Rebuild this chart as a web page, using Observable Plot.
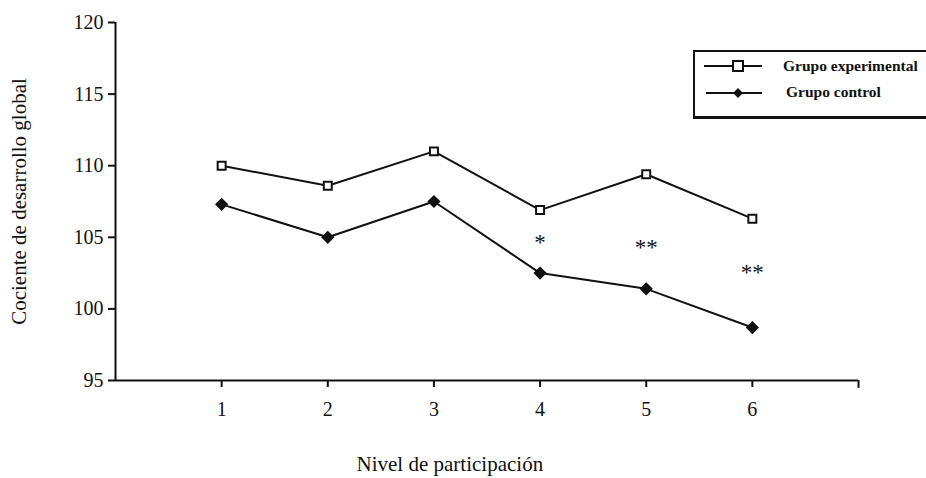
<!DOCTYPE html>
<html><head><meta charset="utf-8">
<script src="https://cdn.jsdelivr.net/npm/d3@7"></script>
<script src="https://cdn.jsdelivr.net/npm/@observablehq/plot@0.6"></script>
<style>
body{margin:0;background:#fff;font-family:"Liberation Serif",serif;}
#wrap{position:relative;width:926px;height:478px;overflow:hidden;}
#legend{position:absolute;left:693px;top:50px;width:260px;height:64px;border:2px solid #111;border-bottom-width:3px;background:#fff;font-family:"Liberation Serif",serif;color:#111;}
</style></head>
<body><div id="wrap"><div id="chart"></div><div id="legend"></div></div>
<script>
const levels = [1, 2, 3, 4, 5, 6];
const experimental = [110.0, 108.6, 111.0, 106.9, 109.4, 106.3];
const control = [107.3, 105.0, 107.5, 102.5, 101.4, 98.7];
const starLevels = [4, 5, 6];
const starLabels = ["*", "**", "**"];
const starValues = [105.0, 104.6, 102.9];
const yTicks = [95, 100, 105, 110, 115, 120];
const seriesNames = ["Grupo experimental", "Grupo control"];

const expData = levels.map((x, i) => ({x, y: experimental[i]}));
const ctlData = levels.map((x, i) => ({x, y: control[i]}));
const stars = starLevels.map((x, i) => ({x, y: starValues[i], t: starLabels[i]}));

const chart = Plot.plot({
  width: 926, height: 478,
  marginLeft: 115, marginRight: 68, marginTop: 22, marginBottom: 98,
  style: {fontFamily: "Liberation Serif, serif", fontSize: "20px", color: "#111", background: "#fff"},
  x: {domain: [0, 7]},
  y: {domain: [95, 120]},
  marks: [
    Plot.ruleX([0], {y1: 95, y2: 120, stroke: "#111", strokeWidth: 2}),
    Plot.ruleY([95], {x1: 0, x2: 7, stroke: "#111", strokeWidth: 2}),
    Plot.ruleX([7], {y1: 95, y2: 94.45, stroke: "#111", strokeWidth: 2}),
    Plot.axisY({ticks: yTicks, tickSize: 7, tickPadding: 5, stroke: "#111", strokeWidth: 2, label: null, fontSize: 20, tickFormat: d => String(d)}),
    Plot.axisX({ticks: levels, tickSize: 7, tickPadding: 14, stroke: "#111", strokeWidth: 2, label: null, fontSize: 20, tickFormat: d => String(d)}),
    Plot.text(["Cociente de desarrollo global"], {frameAnchor: "left", dx: -96, rotate: -90, fontSize: 21, textAnchor: "middle"}),
    Plot.text(["Nivel de participación"], {x: 3.15, y: 95, dy: 84, fontSize: 21}),
    Plot.line(expData, {x: "x", y: "y", stroke: "#111", strokeWidth: 2}),
    Plot.line(ctlData, {x: "x", y: "y", stroke: "#111", strokeWidth: 2}),
    Plot.dot(expData, {x: "x", y: "y", symbol: "square", r: 4.5, fill: "#fff", stroke: "#111", strokeWidth: 2}),
    Plot.dot(ctlData, {x: "x", y: "y", symbol: "diamond2", r: 5, fill: "#111", stroke: "#111", strokeWidth: 1.5}),
    Plot.text(stars, {x: "x", y: "y", text: "t", fontSize: 23, dy: 5, fill: "#111"})
  ]
});
document.getElementById("chart").append(chart);

const lg = document.getElementById("legend");
lg.innerHTML = `<svg width="260" height="64" style="position:absolute;left:0;top:0">
  <line x1="9" x2="67" y1="14" y2="14" stroke="#111" stroke-width="2"/>
  <rect x="38" y="9" width="10" height="10" fill="#fff" stroke="#111" stroke-width="2"/>
  <line x1="11" x2="67" y1="41" y2="41" stroke="#111" stroke-width="2"/>
  <path d="M43,36 L48,41 L43,46 L38,41 Z" fill="#111"/>
  <text x="88" y="19" font-size="15.5" font-weight="bold" fill="#111" font-family="Liberation Serif, serif">${seriesNames[0]}</text>
  <text x="91" y="45" font-size="15.5" font-weight="bold" fill="#111" font-family="Liberation Serif, serif">${seriesNames[1]}</text>
</svg>`;
</script></body></html>
